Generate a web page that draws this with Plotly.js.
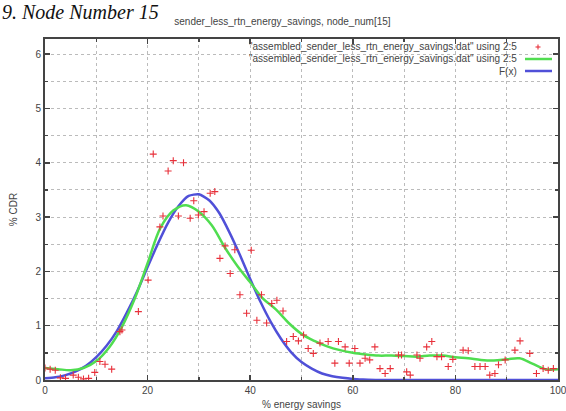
<!DOCTYPE html>
<html>
<head>
<meta charset="utf-8">
<script src="https://cdn.plot.ly/plotly-3.0.1.min.js"></script>
<style>
  html, body { margin: 0; padding: 0; background: #fff; }
  #chart { width: 566px; height: 411px; }
</style>
</head>
<body>
<div id="chart"></div>
<script>
// Histogram points: % of CDRs per energy-savings bin
const pointX = [0, 1, 2, 3, 4, 5.5, 6.5, 7.5, 8.5, 9.7, 10.7, 11.7, 13, 14.6, 15, 18.2, 20.1, 21.1, 22.4, 23,
  24, 25, 26, 27, 28.3, 29, 29.9, 31, 32.2, 33.1, 34.1, 35.1, 36.1, 37, 38, 39.3, 40.2, 41.3, 42.2, 43.2,
  44.2, 45.2, 46.4, 47.1, 48.4, 49.4, 50.4, 51.3, 52.3, 53.6, 55.2, 56.5, 57.2, 58.5, 59.3, 60.4, 61.4, 62.4,
  63.3, 64.3, 65.3, 66.3, 67.3, 68.9, 69.5, 70.5, 71.2, 72.5, 73.1, 74.4, 75.4, 76.4, 77.3, 78.6, 79.5, 81.5,
  82.5, 83.8, 84.8, 85.8, 86.7, 87.7, 88.4, 89.7, 91.6, 92.6, 94.5, 95.8, 97.1, 98.1, 99.1];
const pointY = [0.22, 0.2, 0.18, 0.04, 0.03, 0.09, 0.05, 0.02, 0.03, 0.14, 0.34, 0.29, 0.2, 0.89, 0.92, 1.26, 1.84, 4.16, 2.82, 3.02,
  3.85, 4.04, 3.02, 4.0, 2.98, 3.3, 3.04, 3.1, 3.44, 3.47, 2.24, 2.47, 1.96, 2.4, 1.57, 1.23, 2.39, 1.1, 1.57, 1.05,
  1.41, 1.47, 1.27, 0.71, 0.8, 0.72, 0.83, 0.58, 0.49, 0.68, 0.71, 0.31, 0.71, 0.61, 0.31, 0.58, 0.31, 0.4,
  0.37, 0.61, 0.21, 0.12, 0.21, 0.46, 0.46, 0.15, 0.09, 0.46, 0.4, 0.61, 0.71, 0.43, 0.43, 0.25, 0.38, 0.55,
  0.54, 0.25, 0.25, 0.25, 0.09, 0.12, 0.28, 0.37, 0.55, 0.72, 0.49, 0.12, 0.21, 0.18, 0.21];

// Smoothed curve through the same file
const smoothX = [0, 2.5, 5, 7.5, 10, 12.5, 15, 17.5, 20, 22.5, 25, 27.5, 30, 32.5, 35, 37.5, 40, 42.5, 45, 47.5,
  50, 52.5, 55, 57.5, 60, 62.5, 65, 67.5, 70, 72.5, 75, 77.5, 80, 82.5, 85, 87.5, 90, 92.5, 95, 97.5, 100];
const smoothY = [0.22, 0.2, 0.18, 0.22, 0.35, 0.6, 0.98, 1.5, 2.15, 2.8, 3.12, 3.22, 3.1, 2.85, 2.45, 2.1, 1.8, 1.5, 1.3, 1.05,
  0.85, 0.72, 0.62, 0.55, 0.5, 0.47, 0.45, 0.45, 0.44, 0.43, 0.45, 0.45, 0.42, 0.4, 0.37, 0.36, 0.38, 0.4, 0.3, 0.2, 0.2];

// Fitted F(x)
const fitX = [0, 2, 4, 6, 8, 10, 12, 14, 16, 18, 20, 22, 24, 26, 28, 30, 32, 34, 36, 38,
  40, 42, 44, 46, 48, 50, 52, 54, 56, 58, 60, 62, 65, 70, 80, 90, 100];
const fitY = [0.03, 0.05, 0.09, 0.16, 0.26, 0.42, 0.63, 0.9, 1.25, 1.64, 2.08, 2.51, 2.9, 3.2, 3.39, 3.42, 3.31, 3.07, 2.71, 2.3,
  1.86, 1.44, 1.07, 0.76, 0.51, 0.33, 0.21, 0.12, 0.07, 0.04, 0.02, 0.01, 0, 0, 0, 0, 0];

const legendLabels = [
  '"assembled_sender_less_rtn_energy_savings.dat" using 2:5',
  '"assembled_sender_less_rtn_energy_savings.dat" using 2:5',
  'F(x)'
];
const chartTitle = 'sender_less_rtn_energy_savings, node_num[15]';
const pageHeading = '9. Node Number 15';

const RED = '#e8303a', GREEN = '#50dd50', BLUE = '#5050d8';
const INK = '#444';
const FONT = 'Liberation Sans, Arial, sans-serif';

const traces = [
  { x: fitX, y: fitY, type: 'scatter', mode: 'lines', line: { color: BLUE, width: 2.5, shape: 'spline', smoothing: 0.6 }, hoverinfo: 'skip' },
  { x: smoothX, y: smoothY, type: 'scatter', mode: 'lines', line: { color: GREEN, width: 2.5, shape: 'spline', smoothing: 1 }, hoverinfo: 'skip' },
  { x: pointX, y: pointY, type: 'scatter', mode: 'markers',
    marker: { symbol: 'cross-thin', size: 5, color: RED, line: { color: RED, width: 1.1 } } }
];

// Plot-area geometry in pixels, used to place the key to the upper right
const W = 566, H = 411, L = 45, R = 8, T = 39, B = 31;
const pw = W - L - R, ph = H - T - B;
const px = v => (v - L) / pw;          // page x -> paper x
const py = v => 1 - (v - T) / ph;      // page y -> paper y

const rowsY = [47, 59, 71];
const sampleColors = [RED, GREEN, BLUE];
const annotations = [];
const shapes = [];
legendLabels.forEach((txt, i) => {
  annotations.push({ xref: 'paper', yref: 'paper', x: px(519), y: py(rowsY[i]), xanchor: 'right', yanchor: 'middle',
    text: txt, showarrow: false, font: { family: FONT, size: 10, color: INK } });
});
// red plus sample
shapes.push({ type: 'line', xref: 'paper', yref: 'paper', x0: px(535.5), x1: px(540.5), y0: py(rowsY[0]), y1: py(rowsY[0]), line: { color: RED, width: 1.1 } });
shapes.push({ type: 'line', xref: 'paper', yref: 'paper', x0: px(538), x1: px(538), y0: py(rowsY[0] - 2.5), y1: py(rowsY[0] + 2.5), line: { color: RED, width: 1.1 } });
// line samples
[1, 2].forEach(i => {
  shapes.push({ type: 'line', xref: 'paper', yref: 'paper', x0: px(525), x1: px(552), y0: py(rowsY[i]), y1: py(rowsY[i]),
    line: { color: sampleColors[i], width: 2.5 } });
});

// document heading above the figure
annotations.push({ xref: 'paper', yref: 'paper', x: px(0), y: py(12), xanchor: 'left', yanchor: 'middle',
  text: pageHeading, showarrow: false, font: { family: 'Liberation Serif, Times New Roman, serif', size: 20, color: '#111', style: 'italic' } });

const axisCommon = {
  showline: true, linecolor: INK, linewidth: 2, mirror: 'ticks',
  ticks: 'inside', ticklen: 5, tickwidth: 1.5, tickcolor: INK,
  showgrid: true, gridcolor: '#bbb', gridwidth: 1, griddash: 'dot',
  zeroline: false,
  ticklabeloverflow: 'allow',
  tickfont: { family: FONT, size: 10, color: INK },
  layer: 'above traces'
};

const layout = {
  width: W, height: H,
  margin: { l: L, r: R, t: T, b: B, pad: 0 },
  paper_bgcolor: '#fff', plot_bgcolor: '#fff',
  showlegend: false,
  title: { text: chartTitle, x: px(301), xanchor: 'center', y: 1 - 21 / H, yanchor: 'middle',
    font: { family: FONT, size: 10, color: INK } },
  xaxis: Object.assign({}, axisCommon, {
    range: [0, 100], dtick: 20, tick0: 0,
    minor: { dtick: 10, ticks: 'inside', ticklen: 3, tickcolor: INK, showgrid: true, gridcolor: '#bbb', griddash: 'dot' },
    title: { text: '% energy savings', standoff: 6, font: { family: FONT, size: 10, color: INK } }
  }),
  yaxis: Object.assign({}, axisCommon, {
    range: [0, 6.28], dtick: 1, tick0: 0,
    minor: { dtick: 0.5, ticks: 'inside', ticklen: 3, tickcolor: INK, showgrid: true, gridcolor: '#bbb', griddash: 'dot' },
    title: { text: '% CDR', standoff: 16, font: { family: FONT, size: 10, color: INK } }
  }),
  annotations: annotations,
  shapes: shapes
};

Plotly.newPlot('chart', traces, layout, { staticPlot: true, displayModeBar: false });
</script>
</body>
</html>
